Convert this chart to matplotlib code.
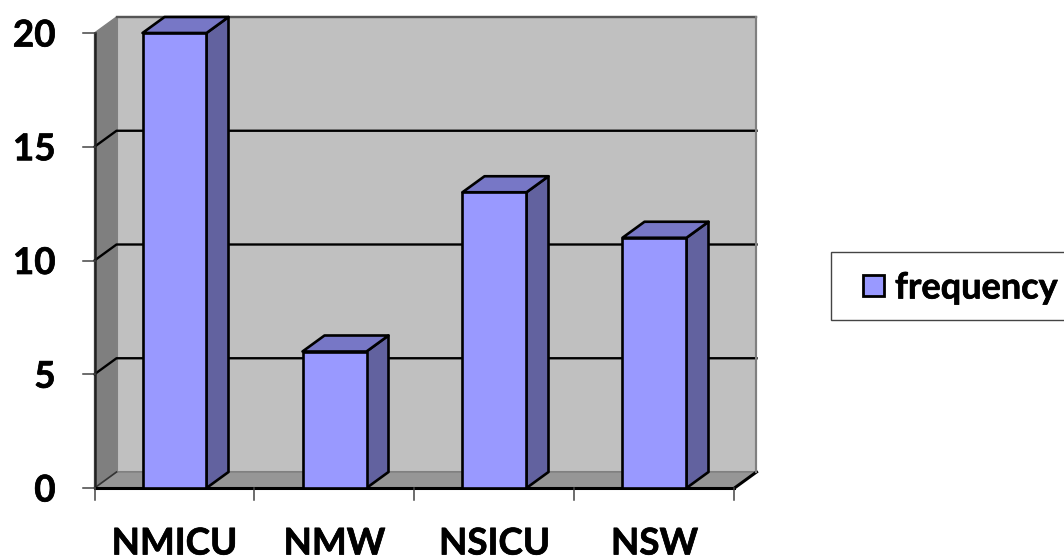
import matplotlib.pyplot as plt
import matplotlib.patheffects as pe
from matplotlib.patches import Polygon, Rectangle

# Chart data
categories = ['NMICU', 'NMW', 'NSICU', 'NSW']
frequency = [20, 6, 13, 11]
y_ticks = [0, 5, 10, 15, 20]

bar_color = '#9999FF'
top_color = '#7777C6'
side_color = '#62629F'
wall_color = '#C0C0C0'
left_wall_color = '#7F7F7F'
floor_color = '#969696'

W, H = 1064, 559
fig = plt.figure(figsize=(W / 100, H / 100), dpi=100)
plt.rcParams['font.family'] = ['Lato', 'DejaVu Sans']

# Slightly heavier strokes on the bold labels
heavy = [pe.withStroke(linewidth=0.5, foreground='black')]

# Axes sit on the front plane of the 3D box
left, right, top, bottom = 94.5, 734.5, 33, 488
ax = fig.add_axes([left / W, 1 - bottom / H, (right - left) / W, (bottom - top) / H])
ax.set_xlim(0, len(categories))
ax.set_ylim(0, 20)
ax.axis('off')

# Depth of the box in data units
dx = 22 / ((right - left) / len(categories))
dy = 16 / ((bottom - top) / 20)
ymax = y_ticks[-1]
xmax = len(categories)
edge_lw = 1.9


def poly(points, color, lw=0, edge='black', z=1):
    ax.add_patch(Polygon(points, closed=True, facecolor=color, edgecolor=edge,
                         linewidth=lw, clip_on=False, zorder=z, joinstyle='round'))


# Walls and floor
poly([(dx, dy), (xmax + dx, dy), (xmax + dx, ymax + dy), (dx, ymax + dy)], wall_color, 1.5, '#808080')
poly([(0, 0), (dx, dy), (dx, ymax + dy), (0, ymax)], left_wall_color, 1.0, '#808080')
poly([(0, 0), (dx, dy), (xmax + dx, dy), (xmax, 0)], floor_color, 1.0, '#808080', z=1.5)

# Gridlines across the side wall and back wall
for t in y_ticks[1:-1]:
    ax.plot([0, dx, xmax + dx], [t, t + dy, t + dy], color='black', lw=1.7,
            clip_on=False, zorder=2, solid_joinstyle='round')
ax.plot([dx, xmax + dx], [ymax + dy, ymax + dy], color='#555555', lw=1.7, clip_on=False, zorder=2)

# Axis lines and ticks
ax.plot([0, 0], [0, ymax], color='#222222', lw=1.8, clip_on=False, zorder=3)
ax.plot([0, xmax], [0, 0], color='black', lw=2.2, clip_on=False, zorder=3)
ax.plot([0, dx], [0, dy], color='#333333', lw=1.2, clip_on=False, zorder=2)
ax.plot([xmax, xmax + dx], [0, dy], color='black', lw=2.2, clip_on=False, zorder=2)
ax.plot([xmax + dx, xmax + dx], [dy, ymax + dy], color='#808080', lw=1.5, clip_on=False, zorder=2)

tick_x = 12 / ((right - left) / len(categories))
tick_y = 12 / ((bottom - top) / 20)
for t in y_ticks:
    ax.plot([-tick_x, 0], [t, t], color='#444444', lw=1.1, clip_on=False, zorder=3)
    ax.annotate(str(t), (0, t), xytext=(-39, 0), textcoords='offset pixels', ha='right',
                va='center_baseline', fontsize=26.5, fontweight='bold', color='black',
                annotation_clip=False, path_effects=heavy)
for i in range(len(categories) + 1):
    ax.plot([i, i], [0, -tick_y], color='#444444', lw=1.1, clip_on=False, zorder=3)

# 3D bars
bar_width = 0.4
for i, (name, val) in enumerate(zip(categories, frequency)):
    x0 = i + 0.5 - bar_width / 2
    x1 = x0 + bar_width
    poly([(x1, 0), (x1 + dx, dy), (x1 + dx, val + dy), (x1, val)], side_color, edge_lw, z=4)
    poly([(x0, val), (x1, val), (x1 + dx, val + dy), (x0 + dx, val + dy)], top_color, edge_lw, z=4)
    poly([(x0, 0), (x1, 0), (x1, val), (x0, val)], bar_color, edge_lw, z=5)
    ax.annotate(name, (x0 + bar_width / 2, 0), xytext=(0, -53), textcoords='offset pixels',
                ha='center', va='center_baseline', fontsize=26.5, fontweight='bold',
                color='black', annotation_clip=False, path_effects=heavy)

# Legend box runs off the right edge of the figure
fig.add_artist(Rectangle((831 / W, 1 - 319.5 / H), 300 / W, 68 / H, transform=fig.transFigure,
                         facecolor='white', edgecolor='#444444', linewidth=1.0))
fig.add_artist(Rectangle((863 / W, 1 - 296 / H), 21 / W, 21 / H, transform=fig.transFigure,
                         facecolor=bar_color, edgecolor='black', linewidth=2.0))
fig.text(895 / W, 1 - 285 / H, 'frequency', ha='left', va='center_baseline', fontsize=26,
         fontweight='bold', color='black', path_effects=heavy)

fig.savefig('out.png', dpi=100)
